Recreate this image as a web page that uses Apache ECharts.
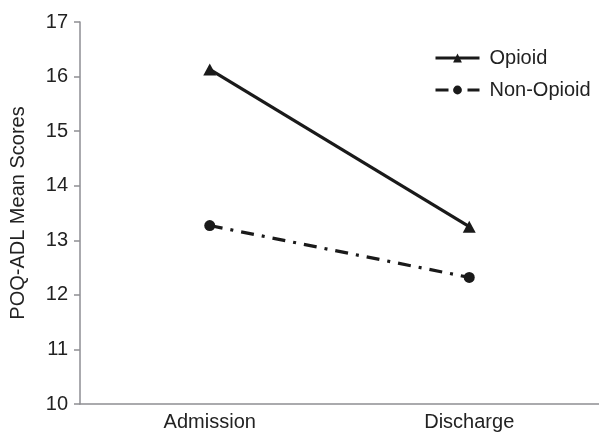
<!DOCTYPE html>
<html>
<head>
<meta charset="utf-8">
<script src="https://cdn.jsdelivr.net/npm/echarts@6/dist/echarts.min.js"></script>
<style>html,body{margin:0;padding:0;background:#fff}#c{width:599px;height:432px}</style>
</head>
<body>
<div id="c"></div>
<script>
var categories = ['Admission', 'Discharge'];
var opioid = [16.13, 13.25];
var nonOpioid = [13.27, 12.32];
var yTicks = [10, 11, 12, 13, 14, 15, 16, 17];

var chart = echarts.init(document.getElementById('c'), null, {renderer: 'canvas'});
var font = 'Liberation Sans, Arial, sans-serif';
chart.setOption({
  animation: false,
  backgroundColor: '#fff',
  grid: {left: 79, right: 0, top: 22, bottom: 28, containLabel: false},
  legend: {
    orient: 'vertical', left: 429, top: 43, itemWidth: 44, itemHeight: 11, itemGap: 12,
    lineStyle: {width: 3},
    textStyle: {fontFamily: font, fontSize: 20, color: '#222', padding: [0, 0, 0, 5]},
    data: ['Opioid', 'Non-Opioid']
  },
  xAxis: {
    type: 'category', data: categories, boundaryGap: true,
    axisLine: {lineStyle: {color: '#8e8e93', width: 1.5}},
    axisTick: {show: false},
    axisLabel: {fontFamily: font, fontSize: 20, color: '#222', margin: 8}
  },
  yAxis: {
    type: 'value', min: yTicks[0], max: yTicks[yTicks.length - 1], interval: 1,
    name: 'POQ-ADL Mean Scores', nameLocation: 'middle', nameGap: 52,
    nameTextStyle: {fontFamily: font, fontSize: 20, color: '#222'},
    axisLine: {show: true, lineStyle: {color: '#8e8e93', width: 1.5}},
    axisTick: {show: true, length: 6, lineStyle: {color: '#8e8e93', width: 1.5}},
    axisLabel: {fontFamily: font, fontSize: 20, color: '#222', margin: 12},
    splitLine: {show: false}
  },
  series: [
    {
      name: 'Opioid', type: 'line', data: opioid,
      symbol: 'triangle', symbolSize: [13, 12],
      lineStyle: {color: '#1a1a1a', width: 3.2, type: 'solid'},
      itemStyle: {color: '#1a1a1a'}
    },
    {
      name: 'Non-Opioid', type: 'line', data: nonOpioid,
      symbol: 'circle', symbolSize: 11,
      lineStyle: {color: '#1a1a1a', width: 3.2, type: [13, 8, 3, 8], cap: 'butt'},
      itemStyle: {color: '#1a1a1a'}
    }
  ]
});
</script>
</body>
</html>
